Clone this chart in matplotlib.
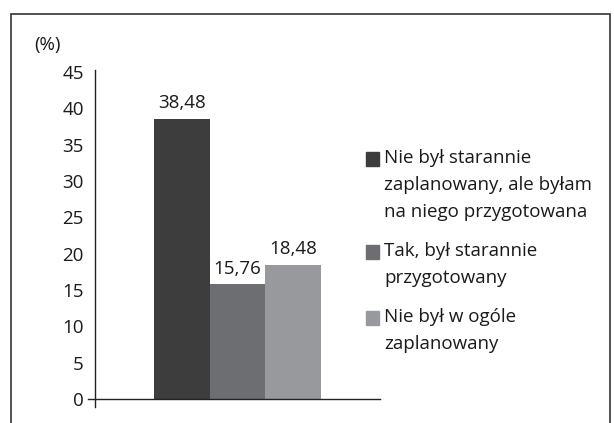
import matplotlib.pyplot as plt
from matplotlib.patches import Rectangle
from matplotlib.lines import Line2D

plt.rcParams["font.family"] = ["Open Sans", "DejaVu Sans"]

# dane
categories = ["Nie był starannie\nzaplanowany, ale byłam\nna niego przygotowana",
              "Tak, był starannie\nprzygotowany",
              "Nie był w ogóle\nzaplanowany"]
values = [38.48, 15.76, 18.48]
value_labels = ["38,48", "15,76", "18,48"]
colors = ["#3d3d3d", "#6d6e71", "#98999c"]
y_ticks = [0, 5, 10, 15, 20, 25, 30, 35, 40, 45]

W, H = 614, 423
TXT = "#1a1a1a"
FS = 13.5
fig = plt.figure(figsize=(W / 100, H / 100), dpi=100)

# ramka wokół wykresu
fig.patches.append(Rectangle((11 / W, -0.05), (610 - 11) / W, 1.05 - 14 / H,
                             transform=fig.transFigure, fill=False,
                             edgecolor="#333333", linewidth=1.2))

ax = fig.add_axes([95 / W, 1 - 399 / H, (380 - 95) / W, (399 - 72) / H])

for i, (v, c) in enumerate(zip(values, colors)):
    ax.bar(i, v, width=1.0, color=c)

for i, (v, t) in enumerate(zip(values, value_labels)):
    ax.annotate(t, (i, v), xytext=(0, 5), textcoords="offset points",
                ha="center", va="bottom", fontsize=FS, color=TXT)

ax.set_xlim(-1.56, 3.56)
ax.set_ylim(0, 45)
ax.set_yticks(y_ticks)
ax.set_yticklabels([str(t) for t in y_ticks], fontsize=FS, color=TXT)
ax.tick_params(axis="y", length=0, pad=8)
ax.set_xticks([])
for s in ["top", "right", "bottom", "left"]:
    ax.spines[s].set_visible(False)

# osie
ax.add_line(Line2D([-0.025, 1.0], [0, 0], transform=ax.transAxes,
                   color="#222222", linewidth=1.0, clip_on=False))
ax.add_line(Line2D([0, 0], [-0.025, 1.005], transform=ax.transAxes,
                   color="#222222", linewidth=1.0, clip_on=False))

fig.text(48 / W, 1 - 45 / H, "(%)", ha="center", va="center",
         fontsize=FS, color=TXT)

# legenda: kwadrat wyrównany do pierwszej linii opisu
legend_top = [152, 245, 311]
for top, c, lab in zip(legend_top, colors, categories):
    fig.patches.append(Rectangle((366 / W, 1 - (top + 14) / H), 13 / W, 14 / H,
                                 transform=fig.transFigure, color=c))
    fig.text(384 / W, 1 - (top - 3) / H, lab, ha="left", va="top",
             fontsize=FS, color=TXT, linespacing=1.64)

fig.savefig("out.png", dpi=100)
